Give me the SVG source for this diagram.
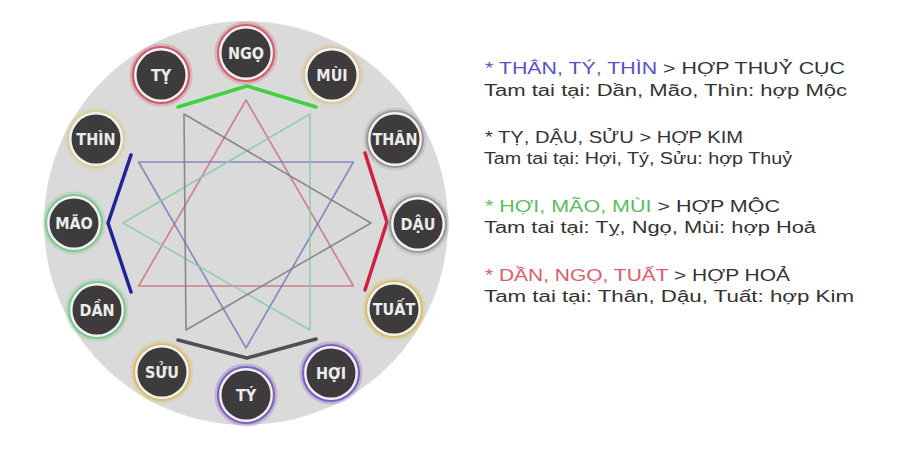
<svg xmlns="http://www.w3.org/2000/svg" width="900" height="450" viewBox="0 0 900 450">
<defs>
<style>
.bg{fill:#ffffff}
.disc{fill:#dadada}
.tri{fill:none;stroke-width:1.6;stroke-linejoin:round;opacity:0.85}
.thick{fill:none;stroke-width:3.5;stroke-linejoin:round;stroke-linecap:round}
.ring{fill:#f2f2f2;stroke-width:2.2}
.halo{fill:none;stroke-width:3;opacity:0.3}
.core{fill:#3d3b3c}
.lbl{font-family:"DejaVu Sans Condensed","DejaVu Sans",sans-serif;font-weight:bold;font-size:16px;fill:#ececec;text-anchor:middle}
.txt{font-family:"Liberation Sans","Noto Sans",sans-serif;font-size:16px;fill:#333333}
</style>
</defs>
<rect class="bg" x="0" y="0" width="900" height="450"/>
<circle class="disc" cx="246" cy="223" r="202"/>

<g id="connectors">
  <polygon class="tri" stroke="#c8707e" points="246,100 138.6,286 353.4,286"/>
  <polygon class="tri" stroke="#7878b8" points="138.6,162 353.4,162 246,348"/>
  <polygon class="tri" stroke="#88c8a8" points="310,114 123,223 310,330"/>
  <polygon class="tri" stroke="#7a7a7a" points="184,114 371,223 186,330"/>
  <polyline class="thick" stroke="#3fd23f" points="178,107 247,86 316,107"/>
  <polyline class="thick" stroke="#22229a" points="131,155 108,223 131,292"/>
  <polyline class="thick" stroke="#d02040" points="365,153 387,222 365,290"/>
  <polyline class="thick" stroke="#505050" points="178,340 247,358 316,339"/>
</g>

<g id="node-ngo">
  <circle class="halo" stroke="#d06070" cx="246" cy="53" r="30"/>
  <circle class="ring" stroke="#d06070" cx="246" cy="53" r="28"/>
  <circle class="core" cx="246" cy="53" r="24.5"/>
  <text class="lbl" x="246" y="59">NGỌ</text>
</g>
<g id="node-mui">
  <circle class="halo" stroke="#d8c8a0" cx="332" cy="75" r="30"/>
  <circle class="ring" stroke="#d8c8a0" cx="332" cy="75" r="28"/>
  <circle class="core" cx="332" cy="75" r="24.5"/>
  <text class="lbl" x="332" y="81">MÙI</text>
</g>
<g id="node-than">
  <circle class="halo" stroke="#a0a0a0" cx="395" cy="139" r="30"/>
  <circle class="ring" stroke="#9a9a9a" cx="395" cy="139" r="28"/>
  <circle class="core" cx="395" cy="139" r="24.5"/>
  <text class="lbl" x="395" y="145">THÂN</text>
</g>
<g id="node-dau">
  <circle class="halo" stroke="#a0a0a0" cx="418" cy="224" r="30"/>
  <circle class="ring" stroke="#9a9a9a" cx="418" cy="224" r="28"/>
  <circle class="core" cx="418" cy="224" r="24.5"/>
  <text class="lbl" x="418" y="230">DẬU</text>
</g>
<g id="node-tuat">
  <circle class="halo" stroke="#d8c070" cx="394" cy="309" r="30"/>
  <circle class="ring" stroke="#d8c070" cx="394" cy="309" r="28"/>
  <circle class="core" cx="394" cy="309" r="24.5"/>
  <text class="lbl" x="394" y="315">TUẤT</text>
</g>
<g id="node-hoi">
  <circle class="halo" stroke="#8060c0" cx="331" cy="373" r="30"/>
  <circle class="ring" stroke="#8060c0" cx="331" cy="373" r="28"/>
  <circle class="core" cx="331" cy="373" r="24.5"/>
  <text class="lbl" x="331" y="379">HỢI</text>
</g>
<g id="node-ty-bottom">
  <circle class="halo" stroke="#8060c0" cx="246" cy="395" r="30"/>
  <circle class="ring" stroke="#8060c0" cx="246" cy="395" r="28"/>
  <circle class="core" cx="246" cy="395" r="24.5"/>
  <text class="lbl" x="246" y="401">TÝ</text>
</g>
<g id="node-suu">
  <circle class="halo" stroke="#d8c070" cx="162" cy="372" r="30"/>
  <circle class="ring" stroke="#d8c070" cx="162" cy="372" r="28"/>
  <circle class="core" cx="162" cy="372" r="24.5"/>
  <text class="lbl" x="162" y="378">SỬU</text>
</g>
<g id="node-dan">
  <circle class="halo" stroke="#80c890" cx="97" cy="310" r="30"/>
  <circle class="ring" stroke="#80c890" cx="97" cy="310" r="28"/>
  <circle class="core" cx="97" cy="310" r="24.5"/>
  <text class="lbl" x="97" y="316">DẦN</text>
</g>
<g id="node-mao">
  <circle class="halo" stroke="#80c890" cx="74" cy="223" r="30"/>
  <circle class="ring" stroke="#80c890" cx="74" cy="223" r="28"/>
  <circle class="core" cx="74" cy="223" r="24.5"/>
  <text class="lbl" x="74" y="229">MÃO</text>
</g>
<g id="node-thin">
  <circle class="halo" stroke="#d8d0a0" cx="96" cy="139" r="30"/>
  <circle class="ring" stroke="#d8d0a0" cx="96" cy="139" r="28"/>
  <circle class="core" cx="96" cy="139" r="24.5"/>
  <text class="lbl" x="96" y="145">THÌN</text>
</g>
<g id="node-ty-top">
  <circle class="halo" stroke="#d05868" cx="161" cy="75" r="30"/>
  <circle class="ring" stroke="#d05868" cx="161" cy="75" r="28"/>
  <circle class="core" cx="161" cy="75" r="24.5"/>
  <text class="lbl" x="161" y="81">TỴ</text>
</g>

<g id="legend">
  <text class="txt" x="485" y="74" textLength="360" lengthAdjust="spacingAndGlyphs"><tspan fill="#5a4fc8">* THÂN, TÝ, THÌN</tspan> &gt; HỢP THUỶ CỤC</text>
  <text class="txt" x="484" y="96" textLength="363" lengthAdjust="spacingAndGlyphs">Tam tai tại: Dần, Mão, Thìn: hợp Mộc</text>
  <text class="txt" x="485" y="143" textLength="258" lengthAdjust="spacingAndGlyphs">* TỴ, DẬU, SỬU &gt; HỢP KIM</text>
  <text class="txt" x="484" y="164" textLength="308" lengthAdjust="spacingAndGlyphs">Tam tai tại: Hợi, Tý, Sửu: hợp Thuỷ</text>
  <text class="txt" x="485" y="212" textLength="295" lengthAdjust="spacingAndGlyphs"><tspan fill="#5cbc5c">* HỢI, MÃO, MÙI</tspan> &gt; HỢP MỘC</text>
  <text class="txt" x="484" y="233" textLength="332" lengthAdjust="spacingAndGlyphs">Tam tai tại: Tỵ, Ngọ, Mùi: hợp Hoả</text>
  <text class="txt" x="485" y="281" textLength="305" lengthAdjust="spacingAndGlyphs"><tspan fill="#e05a6a">* DẦN, NGỌ, TUẤT</tspan> &gt; HỢP HOẢ</text>
  <text class="txt" x="484" y="302" textLength="370" lengthAdjust="spacingAndGlyphs">Tam tai tại: Thân, Dậu, Tuất: hợp Kim</text>
</g>
</svg>
